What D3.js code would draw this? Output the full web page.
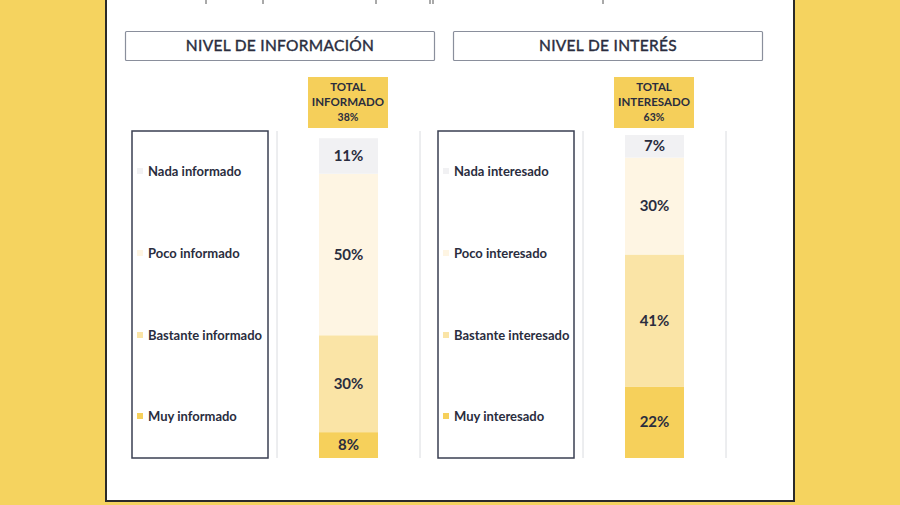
<!DOCTYPE html>
<html><head><meta charset="utf-8">
<script src="https://cdn.jsdelivr.net/npm/d3@7"></script>
<style>
html,body{margin:0;padding:0;background:#F5D35F;}
svg{display:block;}
</style></head>
<body>
<svg id="c" width="900" height="505"></svg>
<script>
// ---- data ----
const charts = ["info", "interes"];
const chartTitles = ["NIVEL DE INFORMACIÓN", "NIVEL DE INTERÉS"];
const totalLabels = [["TOTAL", "INFORMADO", "38%"], ["TOTAL", "INTERESADO", "63%"]];
const levels = ["Nada", "Poco", "Bastante", "Muy"];
const legendInfo = ["Nada informado", "Poco informado", "Bastante informado", "Muy informado"];
const legendInteres = ["Nada interesado", "Poco interesado", "Bastante interesado", "Muy interesado"];
const infoValues = [11, 50, 30, 8];
const interesValues = [7, 30, 41, 22];
const colors = ["#F1F1F3", "#FEF5E3", "#FAE4A6", "#F6D05B"];

const svg = d3.select("#c");
const navy = "#2A2D3E";

// white panel
svg.append("rect").attr("x", 106).attr("y", -4).attr("width", 688).attr("height", 505)
  .attr("fill", "#fff").attr("stroke", "#2a2a2a").attr("stroke-width", 2);
// little tick marks at top (cut off axis)
[206, 263, 376, 430, 433, 603].forEach(x => {
  svg.append("line").attr("x1", x).attr("x2", x).attr("y1", 0).attr("y2", 4)
    .attr("stroke", "#555").attr("stroke-width", 1);
});

const y = d3.scaleLinear().domain([0, 100]).range([458, 135]);
const xBar = d3.scalePoint().domain(charts).range([319, 625]);
const barW = 59;
const offset = d3.scalePoint().domain(charts).range([0, 306]);

const titleX = d3.scalePoint().domain(charts).range([125, 453]);

const dataSets = [infoValues, interesValues];
const legends = [legendInfo, legendInteres];

charts.forEach((ch, ci) => {
  const off = offset(ch);
  // title box
  svg.append("rect").attr("x", titleX(ch) + 0.5).attr("y", 31.5).attr("width", 309).attr("height", 29)
    .attr("fill", "#fff").attr("stroke", "#8a8f9c").attr("stroke-width", 1.2)
    .attr("rx", 1);
  svg.append("text").attr("x", titleX(ch) + 155).attr("y", 51)
    .attr("text-anchor", "middle").attr("font-family", "Lato, 'Open Sans', sans-serif")
    .attr("font-size", 15.5).attr("font-weight", 400).attr("fill", navy)
    .attr("stroke", navy).attr("stroke-width", 0.4)
    .attr("letter-spacing", 0.3)
    .text(chartTitles[ci]);

  // vertical thin lines
  [277, 420].forEach(x => {
    svg.append("line").attr("x1", x + off).attr("x2", x + off).attr("y1", 131).attr("y2", 458)
      .attr("stroke", "#DADCE0").attr("stroke-width", 1);
  });

  // legend box
  svg.append("rect").attr("x", 132 + off).attr("y", 131).attr("width", 136).attr("height", 327)
    .attr("fill", "#fff").attr("stroke", "#3a3f52").attr("stroke-width", 1.5);
  const legY = [172, 254, 336, 417];
  levels.forEach((lv, li) => {
    svg.append("rect").attr("x", 137 + off).attr("y", legY[li] - 4).attr("width", 6).attr("height", 6)
      .attr("fill", colors[li]);
    svg.append("text").attr("x", 148 + off).attr("y", legY[li] + 4)
      .attr("font-family", "Lato, 'Open Sans', sans-serif").attr("font-weight", 700)
      .attr("font-size", 13).attr("fill", navy).text(legends[ci][li]);
  });

  // stacked bar: bottom is "Muy"
  const vals = dataSets[ci];
  let cum = 0;
  for (let li = levels.length - 1; li >= 0; li--) {
    const v = vals[li];
    const y0 = y(cum), y1 = y(cum + v);
    svg.append("rect").attr("x", xBar(ch)).attr("y", y1).attr("width", barW).attr("height", y0 - y1)
      .attr("fill", colors[li]);
    svg.append("text").attr("x", xBar(ch) + barW / 2).attr("y", (y0 + y1) / 2 + 5)
      .attr("text-anchor", "middle").attr("font-family", "Lato, 'Open Sans', sans-serif")
      .attr("font-weight", 700).attr("font-size", 15).attr("fill", navy)
      .text(v + "%");
    cum += v;
  }

  // total box
  const tbx = xBar(ch) - 11;
  svg.append("rect").attr("x", tbx).attr("y", 77).attr("width", 80).attr("height", 51)
    .attr("fill", "#F5CF5A");
  totalLabels[ci].forEach((t, ti) => {
    svg.append("text").attr("x", tbx + 40).attr("y", 91 + ti * 15)
      .attr("text-anchor", "middle").attr("font-family", "Lato, 'Open Sans', sans-serif")
      .attr("font-weight", 700).attr("font-size", ti === 2 ? 10.5 : 11.5).attr("fill", navy)
      .text(t);
  });
});
</script>
</body></html>
